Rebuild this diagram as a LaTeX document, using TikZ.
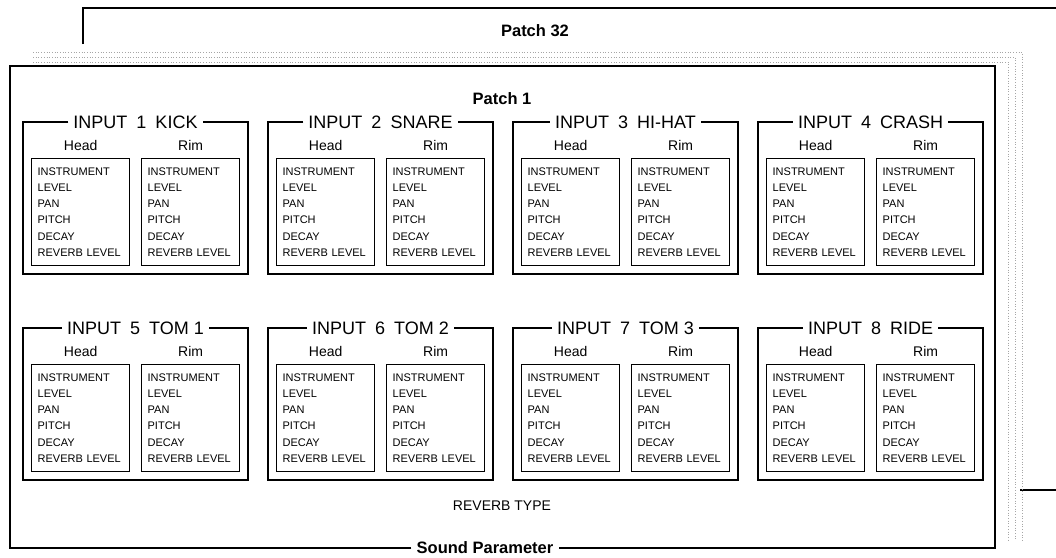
\documentclass[tikz,border=0pt]{standalone}
\usepackage{fontspec}
\setmainfont{Liberation Sans}
\usetikzlibrary{positioning}

\begin{document}
\begin{tikzpicture}[x=1pt,y=-1pt,%%
  frameStyle/.style={-,line width=1.9pt},%%
  groupStyle/.style={-,line width=2.6pt},%%
  sheetStyle/.style={-,gray!70,dotted,line width=0.7pt},%%
  boxStyle/.style={draw,line width=1.3pt,minimum height=107.5pt,text width=86pt,%%
    inner xsep=6pt,align=left,anchor=north west,font=\fontsize{11}{16.2}\selectfont},%%
  titleStyle/.style={font=\fontsize{18}{20}\selectfont,inner xsep=5pt},%%
  headStyle/.style={font=\fontsize{14}{16}\selectfont},%%
  patchStyle/.style={font=\bfseries\fontsize{16.5}{18}\selectfont,inner xsep=5pt},%%
  noteStyle/.style={font=\fontsize{14}{16}\selectfont}%%
]
%%
\useasboundingbox (0,0) rectangle (1056,557);
%%
\pgfmathsetmacro{\xlow}{10}
\pgfmathsetmacro{\ylow}{66}
\pgfmathsetmacro{\xhigh}{995}
\pgfmathsetmacro{\yhigh}{548}
\pgfmathsetmacro{\dx}{73}
\pgfmathsetmacro{\dy}{58}
\pgfmathsetmacro{\groupWidth}{225}
\pgfmathsetmacro{\groupStep}{245}
\pgfmathsetmacro{\rowStep}{206}
%%
%% The last patch, behind the others.
\node[patchStyle] (patchLast) at (535,31) {Patch 32};
\draw[frameStyle] (\xlow+\dx,44) -- (\xlow+\dx,\ylow-\dy) -- (1060,\ylow-\dy);
\draw[frameStyle] (1020,\yhigh-\dy) -- (1060,\yhigh-\dy);
%%
%% The patches in between.
\draw[sheetStyle] (33,52) -- (1022,52) -- (1022,540);
\draw[sheetStyle] (33,57) -- (1015,57) -- (1015,540);
\draw[sheetStyle] (33,62) -- (1008,62) -- (1008,540);
%%
%% The first patch.
\node[patchStyle] (soundParameter) at (485,\yhigh) {Sound Parameter};
\draw[frameStyle] (soundParameter.west) -| (\xlow,\ylow) -| (\xhigh,\yhigh)
  -- (soundParameter.east);
\node[patchStyle] (patchFirst) at (502,99) {Patch 1};
%%
%% The eight inputs.
\foreach \num/\drum in {1/KICK,2/SNARE,3/HI-HAT,4/CRASH,%%
                        5/TOM 1,6/TOM 2,7/TOM 3,8/RIDE} {
  \pgfmathsetmacro{\gx}{23+mod(\num-1,4)*\groupStep}
  \pgfmathsetmacro{\gy}{122+floor((\num-1)/4)*\rowStep}
  %% Title on the top side.
  \node[titleStyle] (title\num) at (\gx+\groupWidth/2,\gy)
    {INPUT\hspace{0.5em}\num\hspace{0.5em}\drum};
  %% Head and rim settings.
  \node[boxStyle] (headBox\num) at (\gx+8,\gy+35.5)
    {INSTRUMENT\\LEVEL\\PAN\\PITCH\\DECAY\\REVERB LEVEL};
  \node[boxStyle] (rimBox\num) at (\gx+118,\gy+35.5)
    {INSTRUMENT\\LEVEL\\PAN\\PITCH\\DECAY\\REVERB LEVEL};
  \node[headStyle,above=3pt of headBox\num] (head\num) {Head};
  \node[headStyle,above=3pt of rimBox\num] (rim\num) {Rim};
  %% Outline of the input.
  \draw[groupStyle] (title\num.west) -- (\gx,\gy) -- (\gx,\gy+152)
    -- (\gx+\groupWidth,\gy+152) -- (\gx+\groupWidth,\gy) -- (title\num.east);
}
%%
\node[noteStyle] (reverbType) at (502,506) {REVERB TYPE};
\end{tikzpicture}
\end{document}
